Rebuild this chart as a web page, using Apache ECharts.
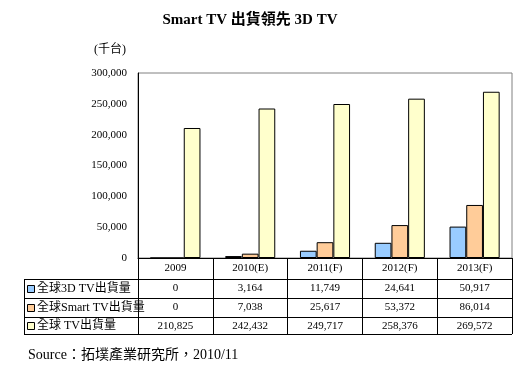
<!DOCTYPE html>
<html><head><meta charset="utf-8">
<script src="https://cdn.jsdelivr.net/npm/echarts@6/dist/echarts.min.js"></script>
<style>html,body{margin:0;padding:0;background:#fff}#c{width:530px;height:371px}</style>
</head><body><div id="c"></div>
<script>
const categories = ['2009', '2010(E)', '2011(F)', '2012(F)', '2013(F)'];
const seriesNames = ['全球3D TV出貨量', '全球Smart TV出貨量', '全球 TV出貨量'];
const tv3d = [0, 3164, 11749, 24641, 50917];
const tvSmart = [0, 7038, 25617, 53372, 86014];
const tvAll = [210825, 242432, 249717, 258376, 269572];
const yTicks = [0, 50000, 100000, 150000, 200000, 250000, 300000];
const colors = ['#99CCFF', '#FFCC99', '#FFFFCC'];

const SERIF = '"Liberation Serif","Noto Sans CJK TC",serif';
const CJK = '"Liberation Serif","Noto Sans CJK TC",sans-serif';
const fmt = v => v.toLocaleString('en-US');
const allData = [tv3d, tvSmart, tvAll];

const chart = echarts.init(document.getElementById('c'));
const gridL = 138, gridR = 512, gridT = 73, gridB = 258;
const rows = [279, 298, 317, 334];
const tableLeft = 24;

const graphics = [];
graphics.push({type:'text', x:250, y:13, style:{text:'Smart TV 出貨領先 3D TV', font:'bold 15px '+CJK, fill:'#000', align:'center'}});
graphics.push({type:'text', x:94, y:44, style:{text:'(千台)', font:'12px '+CJK, fill:'#000'}});
graphics.push({type:'text', x:28, y:348, style:{text:'Source：拓墣產業研究所，2010/11', font:'14px '+CJK, fill:'#000'}});
rows.forEach(y => graphics.push({type:'line', shape:{x1:tableLeft, y1:y+0.5, x2:gridR, y2:y+0.5}, style:{stroke:'#000', lineWidth:1}}));
graphics.push({type:'line', shape:{x1:tableLeft+0.5, y1:rows[0], x2:tableLeft+0.5, y2:rows[3]}, style:{stroke:'#000', lineWidth:1}});
seriesNames.forEach((n, i) => {
  const yc = (rows[i] + rows[i+1]) / 2;
  graphics.push({type:'rect', shape:{x:27.5, y:Math.round(yc-4)+0.5, width:7, height:7}, style:{fill:colors[i], stroke:'#000', lineWidth:1}});
  graphics.push({type:'text', x:37, y:yc, style:{text:n, font:'12px '+CJK, fill:'#000', verticalAlign:'middle'}});
});

chart.setOption({
  animation: false,
  grid: {left: gridL, right: 530 - gridR, top: gridT, bottom: 371 - gridB, show: true, borderColor: '#808080', borderWidth: 1},
  xAxis: {
    type: 'category', data: categories,
    axisLine: {lineStyle: {color: '#000', width: 1}},
    axisTick: {show: true, interval: 0, length: rows[3] - gridB, lineStyle: {color: '#000'}},
    axisLabel: {
      interval: 0, margin: 0, color: '#000', fontFamily: SERIF, fontSize: 11,
      formatter: (v, idx) => '{h|' + v + '}\n' + allData.map(d => '{v|' + fmt(d[idx]) + '}').join('\n'),
      rich: {
        h: {fontFamily: SERIF, fontSize: 11, lineHeight: 21, color: '#000'},
        v: {fontFamily: SERIF, fontSize: 11, lineHeight: 19, color: '#000'}
      }
    }
  },
  yAxis: {
    type: 'value', min: yTicks[0], max: yTicks[yTicks.length-1], interval: yTicks[1] - yTicks[0],
    axisLine: {show: true, lineStyle: {color: '#000'}},
    axisTick: {show: false},
    splitLine: {show: false},
    axisLabel: {margin: 11, color: '#000', fontFamily: SERIF, fontSize: 11, formatter: v => fmt(v)}
  },
  series: allData.map((d, i) => ({
    type: 'bar', name: seriesNames[i], data: d,
    barGap: '0%', barCategoryGap: '33%',
    itemStyle: {color: colors[i], borderColor: '#000', borderWidth: 1}
  })),
  graphic: graphics
});
</script></body></html>
